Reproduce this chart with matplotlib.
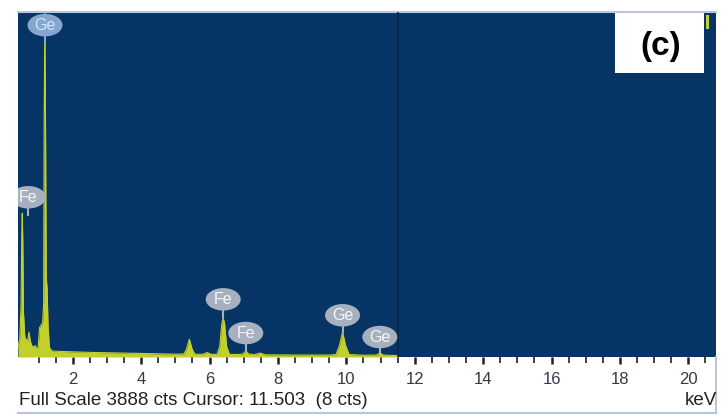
import matplotlib
matplotlib.use("Agg")
import matplotlib.pyplot as plt
from matplotlib.patches import Ellipse, Rectangle
from matplotlib.transforms import ScaledTranslation

plt.rcParams['font.family'] = ['Liberation Sans', 'DejaVu Sans']

# EDS spectrum: energy (keV) and counts
energy = [0.40, 0.45, 0.49, 0.51, 0.525, 0.54, 0.56, 0.60, 0.65, 0.68, 0.72, 0.76,
          0.80, 0.86, 0.90, 0.94, 0.99, 1.03, 1.08, 1.12, 1.15, 1.165, 1.185,
          1.205, 1.225, 1.25, 1.28, 1.32, 1.38, 1.45, 1.7, 2.0, 2.5, 3.0, 3.5,
          4.0, 4.5, 5.0, 5.25, 5.33, 5.41, 5.49, 5.57, 5.8, 5.93, 6.05, 6.22,
          6.30, 6.36, 6.40, 6.44, 6.50, 6.58, 6.85, 6.98, 7.06, 7.14, 7.3, 7.48,
          7.62, 8.0, 8.5, 9.0, 9.5, 9.70, 9.80, 9.89, 9.98, 10.08, 10.5, 10.88,
          10.98, 11.08, 11.3, 11.5]
counts = [115, 200, 600, 1400, 1620, 1300, 500, 220, 190, 180, 280, 180,
          130, 110, 130, 100, 110, 330, 360, 390, 600, 2600, 3888,
          2600, 900, 780, 330, 110, 70, 66, 62, 58, 52, 48, 44,
          40, 36, 32, 34, 90, 200, 90, 32, 30, 50, 30, 30,
          120, 380, 440, 380, 120, 30, 28, 35, 70, 35, 26, 45,
          25, 24, 22, 22, 22, 28, 130, 280, 130, 28, 20, 22,
          45, 22, 18, 16]

full_scale = 3888
cursor_kev = 11.503
cursor_cts = 8

# Element line labels: symbol, energy (keV), bubble centre (counts), peak top (counts)
label_text = ['Ge', 'Fe', 'Fe', 'Fe', 'Ge', 'Ge']
label_kev = [1.19, 0.70, 6.40, 7.06, 9.89, 10.98]
label_cts = [3740, 1800, 650, 270, 470, 225]
label_tip = [3550, 1600, 450, 80, 285, 40]

xticks = [2, 4, 6, 8, 10, 12, 14, 16, 18, 20]

navy = '#063465'
yellow = '#c3cf2b'
frame = '#b8c6d8'

fig = plt.figure(figsize=(7.21, 4.15), dpi=100)
fig.patch.set_facecolor('white')
ax = fig.add_axes([18 / 721, 1 - 357 / 415, 698 / 721, 345 / 415])
ax.set_facecolor(navy)
ax.set_xlim(0.40, 20.81)
ax.set_ylim(0, full_scale)

ax.fill_between(energy, counts, 0, color=yellow, lw=0, zorder=2)
ax.plot(energy, counts, color=yellow, lw=0.8, zorder=2)

# cursor line
ax.axvline(cursor_kev, color='#0b2444', lw=1.2, zorder=3)

# small marker at top right
ax.add_patch(Rectangle((0.985, 0.952), 0.005, 0.04, transform=ax.transAxes,
                       color=yellow, lw=0, zorder=4))

# element labels
for i, (txt, e, c, tip) in enumerate(zip(label_text, label_kev, label_cts, label_tip)):
    top = (i == 0)
    fc = '#86a6cf' if top else '#a6b0bf'
    tc = '#cfe6ff' if top else '#f4f6fa'
    ax.plot([e, e], [tip, c], color=fc, lw=1.5, zorder=5, clip_on=True)
    trans = fig.dpi_scale_trans + ScaledTranslation(e, c, ax.transData)
    ell = Ellipse((0, 0), 0.35, 0.225, transform=trans, facecolor=fc,
                  edgecolor='none', zorder=6)
    ell.set_clip_path(ax.patch)
    ax.add_patch(ell)
    ax.text(e, c, txt, ha='center', va='center', color=tc, fontsize=11.5,
            zorder=7, clip_on=True)

# panel label
ax.add_patch(Rectangle((0.855, 0.823), 0.128, 0.174, transform=ax.transAxes,
                       facecolor='white', edgecolor='none', zorder=8))
ax.text(0.921, 0.901, '(c)', transform=ax.transAxes, ha='center', va='center',
        fontsize=24, fontweight='bold', color='black', zorder=9)

for s in ax.spines.values():
    s.set_visible(False)
ax.spines['top'].set_visible(True)
ax.spines['top'].set_color(frame)
ax.spines['top'].set_linewidth(1.5)

ax.set_yticks([])
ax.set_xticks(xticks)
ax.set_xticklabels([str(v) for v in xticks])
ax.set_xticks([v / 2 for v in range(2, 42) if v % 4 != 0], minor=True)
ax.tick_params(axis='x', which='major', direction='out', length=5, width=1.8,
               color='#222222', labelsize=12, labelcolor='#3b3548', pad=6)
ax.tick_params(axis='x', which='minor', direction='out', length=4, width=1.2,
               color='#222222')

fig.text(19 / 721, 1 - 400 / 415,
         f'Full Scale {full_scale} cts Cursor: {cursor_kev:.3f}  ({cursor_cts} cts)',
         ha='left', va='center', fontsize=13.5, color='#222222')
fig.text(717 / 721, 1 - 400 / 415, 'keV', ha='right', va='center', fontsize=13.5,
         color='#222222')

# frame lines on right and bottom of the panel
fig.add_artist(plt.Line2D([716 / 721, 716 / 721], [1 - 357 / 415, 1 - 413 / 415],
                          transform=fig.transFigure, color=frame, lw=1.5))
fig.add_artist(plt.Line2D([18 / 721, 716 / 721], [1 - 413 / 415, 1 - 413 / 415],
                          transform=fig.transFigure, color=frame, lw=1.5))

fig.savefig('out.png', dpi=100)
